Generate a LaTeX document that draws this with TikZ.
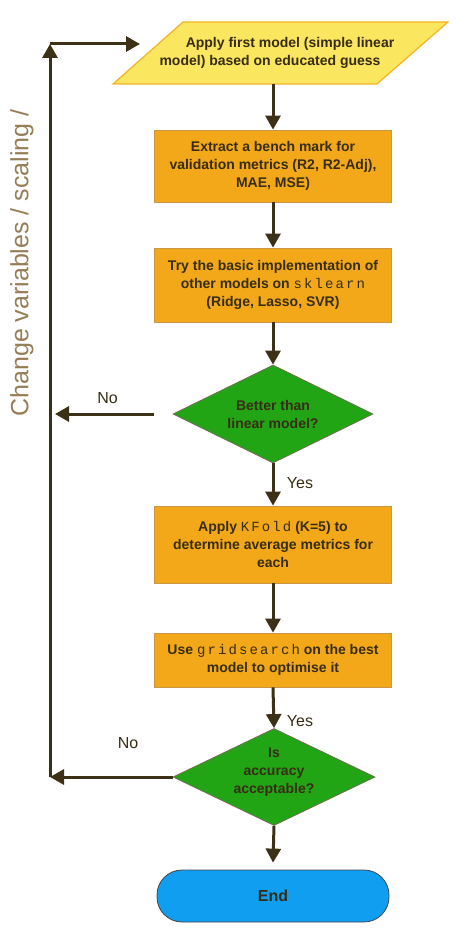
\documentclass[tikz,border=0pt]{standalone}
\usepackage{fontspec}
\setmainfont{Liberation Sans}
\setmonofont{Liberation Mono}[LetterSpace=15]
\usetikzlibrary{arrows.meta,shapes.geometric}
\definecolor{ink}{RGB}{55,45,20}
\definecolor{arrowc}{RGB}{60,48,22}
\definecolor{orangefill}{RGB}{243,168,26}
\definecolor{boxline}{RGB}{200,150,70}
\definecolor{yellowfill}{RGB}{250,230,95}
\definecolor{yellowline}{RGB}{242,178,40}
\definecolor{greenfill}{RGB}{34,165,20}
\definecolor{greenline}{RGB}{110,110,80}
\definecolor{bluefill}{RGB}{15,158,240}
\definecolor{blueline}{RGB}{70,70,70}
\definecolor{sidetext}{RGB}{150,125,85}
\newcommand{\code}[1]{{\mdseries\ttfamily #1}}
\begin{document}
\begin{tikzpicture}[x=1pt,y=-1pt,
  boxtext/.style={font={\fontsize{14}{18}\selectfont\bfseries}, text=ink, align=center},
  box/.style={boxtext, draw=boxline, line width=0.8pt, fill=orangefill, minimum width=237pt, inner sep=0pt},
  dia/.style={boxtext, diamond, draw=greenline, line width=0.8pt, fill=greenfill, inner sep=0pt, aspect=2},
  endbox/.style={boxtext, draw=blueline, line width=0.8pt, fill=bluefill, rounded corners=25pt, minimum width=232pt, minimum height=52pt, inner sep=0pt},
  lbl/.style={font={\fontsize{16}{18}\selectfont}, text=ink},
  arr/.style={draw=arrowc, line width=3pt, -{Triangle[length=14pt,width=15pt]}}]
\useasboundingbox (0,0) rectangle (456,934);

% parallelogram
\fill[yellowfill, draw=yellowline, line width=1.2pt] (183,22) -- (448,22) -- (377,84) -- (113,84) -- cycle;
\node[boxtext, minimum height=62pt, inner sep=0pt] (p1) at (280,53)
  {\hspace*{20pt}Apply first model (simple linear\\model) based on educated guess\hspace*{20pt}};

\node[box, minimum height=72pt] (b2) at (273,166)
  {Extract a bench mark for\\validation metrics (R2, R2-Adj),\\MAE, MSE)};
\node[box, minimum height=74pt] (b3) at (273,285)
  {Try the basic implementation of\\other models on \code{sklearn}\\(Ridge, Lasso, SVR)};
\node[dia, minimum width=200pt, minimum height=98pt] (d1) at (273,414)
  {Better than\\linear model?};
\node[box, minimum height=77pt] (b4) at (273,544.5)
  {Apply \code{KFold} (K=5) to\\determine average metrics for\\each};
\node[box, minimum height=54pt] (b5) at (273,660)
  {Use \code{gridsearch} on the best\\model to optimise it};
\node[dia, minimum width=202pt, minimum height=97pt] (d2) at (274,777) {};
\node[boxtext, inner sep=0pt] (d2t) at (274,772) {Is\\accuracy\\acceptable?};
\node[endbox] (e) at (273,896) {\fontsize{16}{18}\selectfont End};

% side text
\node[rotate=90, text=sidetext, font={\fontsize{25}{28}\selectfont}] (side) at (22,263)
  {Change variables / scaling /};

% labels
\node[lbl] (no1) at (107.5,398) {No};
\node[lbl] (yes1) at (300,483) {Yes};
\node[lbl] (yes2) at (300,721) {Yes};
\node[lbl] (no2) at (128,743) {No};

% coordinates for loop
\coordinate (c1) at (50,777);
\coordinate (c2) at (50,44);
\coordinate (c3) at (140,44);
\coordinate (n1) at (55,414);

% connectors
\draw[arr] (b2.north |- p1.south) -- (b2.north);
\draw[arr] (b2.south) -- (b3.north);
\draw[arr] (b3.south) -- (d1.north);
\draw[arr] (d1.south) -- (b4.north);
\draw[arr] (b4.south) -- (b5.north);
\draw[arr] (b5.south) -- (d2.north);
\draw[arr] (d2.south) -- ([yshift=7pt]e.north);
\draw[arr] ([xshift=-19pt]d1.west) -- (n1);
\draw[arr] (d2.west) -- (c1);
\draw[arr] (c1) -- (c2);
\draw[arr] (c2) -- (c3);
\end{tikzpicture}
\end{document}
